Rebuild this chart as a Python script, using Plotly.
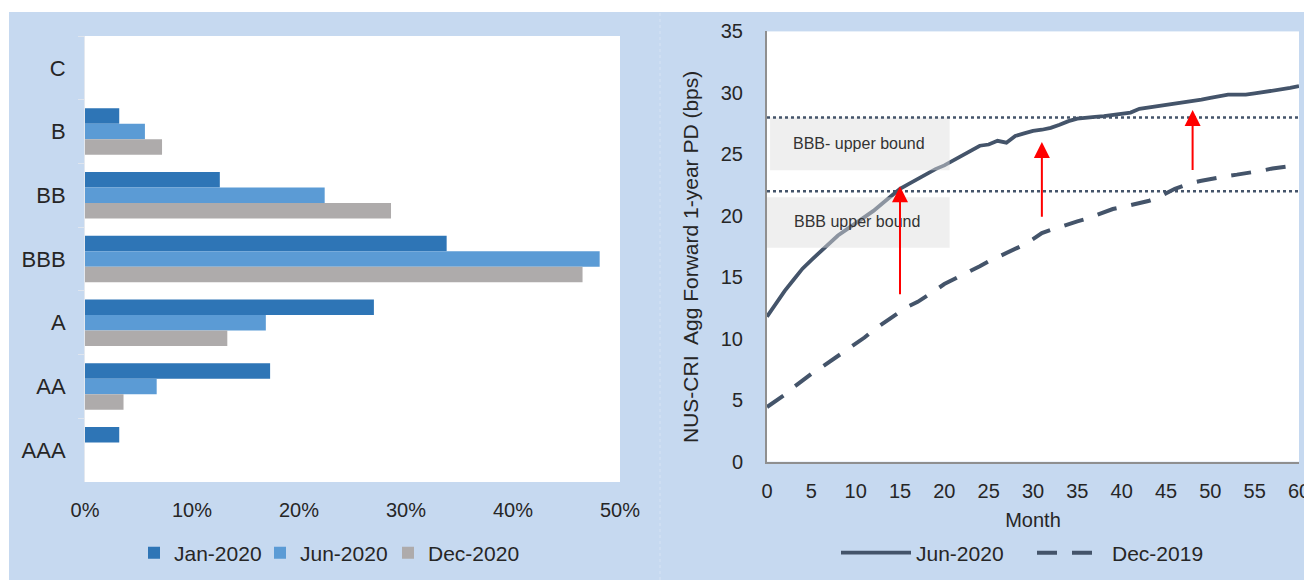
import plotly.graph_objects as go
from plotly.subplots import make_subplots

# ---- rating distribution (share of firms, %) ----
RATINGS = ["C", "B", "BB", "BBB", "A", "AA", "AAA"]
JAN_2020 = [0.0, 3.2, 12.6, 33.8, 27.0, 17.3, 3.2]
JUN_2020 = [0.0, 5.6, 22.4, 48.1, 16.9, 6.7, 0.0]
DEC_2020 = [0.0, 7.2, 28.6, 46.5, 13.3, 3.6, 0.0]
SHARE_TICKS = [0, 10, 20, 30, 40, 50]
SHARE_TICK_LABELS = ["0%", "10%", "20%", "30%", "40%", "50%"]

# ---- forward 1-year PD term structure (bps) ----
MONTHS = list(range(61))
PD_JUN_2020 = [
    11.8, 12.9, 13.9, 14.8, 15.7, 16.4, 17.1, 17.8, 18.4, 18.9,
    19.4, 19.9, 20.4, 21.0, 21.6, 22.2, 22.6, 23.0, 23.4, 23.8,
    24.1, 24.5, 24.9, 25.3, 25.7, 25.8, 26.1, 25.95, 26.5, 26.7,
    26.9, 27.0, 27.15, 27.4, 27.7, 27.9, 28.0, 28.05, 28.1, 28.2,
    28.3, 28.4, 28.7, 28.8, 28.9, 29.0, 29.15, 29.25, 29.35, 29.45,
    29.6, 29.7, 29.85, 29.85, 29.85, 29.95, 30.05, 30.15, 30.25, 30.4,
    30.55,
]
PD_DEC_2019 = [
    4.45, 4.95, 5.45, 6.05, 6.65, 7.15, 7.6, 8.1, 8.6, 9.1,
    9.65, 10.1, 10.7, 11.25, 11.7, 12.2, 12.65, 13.0, 13.45, 13.95,
    14.45, 14.8, 15.15, 15.55, 15.9, 16.3, 16.65, 17.0, 17.3, 17.65,
    18.1, 18.6, 18.85, 19.1, 19.35, 19.55, 19.75, 20.0, 20.3, 20.55,
    20.7, 20.85, 21.0, 21.2, 21.45, 21.8, 22.2, 22.45, 22.7, 22.85,
    23.0, 23.15, 23.25, 23.35, 23.45, 23.55, 23.7, 23.85, 23.95, 24.05,
    24.15,
]
PD_TICKS = [0, 5, 10, 15, 20, 25, 30, 35]
MONTH_TICKS = list(range(0, 61, 5))
PD_TITLE = "NUS-CRI  Agg Forward 1-year PD (bps)"

# rating-band thresholds and their label boxes
BOUND_NAMES = ["BBB- upper bound", "BBB upper bound"]
BOUND_LEVELS = [28.0, 22.0]
BOX_BOTTOMS = [23.7, 17.4]
BOX_TOPS = [28.0, 21.5]
BOX_STARTS = [0.35, 0.0]
BOX_END = 20.6
LABEL_MONTHS = [10.4, 10.1]
LABEL_LEVELS = [25.85, 19.5]

# shift arrows: month, from level, to level
ARROW_MONTHS = [15.0, 31.0, 48.0]
ARROW_FROM = [13.5, 19.8, 23.6]
ARROW_TO = [22.4, 26.0, 28.6]

W, H = 1304, 580
PANEL_BG = "#c6d9f0"
TEXT = "#262626"
FONT = "Liberation Sans, Arial, sans-serif"
LINE_COL = "#44546a"
LEGEND_ROW = 553


def px_x(p):
    return p / W


def px_y(p):
    return 1 - p / H


def legend_box(left_px, item_w):
    # one single-entry legend placed at a fixed pixel column
    return dict(
        orientation="h", x=px_x(left_px), xanchor="left",
        y=px_y(LEGEND_ROW), yanchor="middle",
        bgcolor="rgba(0,0,0,0)", font=dict(size=21, color=TEXT),
        itemwidth=item_w, itemclick=False, itemdoubleclick=False,
    )


fig = make_subplots(rows=1, cols=2)

bar_series = [
    ("Jan-2020", JAN_2020, "#2e75b6", "legend", 134),
    ("Jun-2020", JUN_2020, "#5b9bd5", "legend2", 260),
    ("Dec-2020", DEC_2020, "#aeabab", "legend3", 388),
]
for name, vals, col, leg, _ in bar_series:
    fig.add_trace(
        go.Bar(
            y=RATINGS, x=vals, name=name, orientation="h",
            marker=dict(color=col, line=dict(width=0)),
            legend=leg,
        ),
        row=1, col=1,
    )

line_series = [
    ("Jun-2020", PD_JUN_2020, 3.8, "solid", "legend4", 836),
    ("Dec-2019", PD_DEC_2019, 4.0, "20px,15px", "legend5", 1032),
]
for name, vals, lw, dash, leg, _ in line_series:
    fig.add_trace(
        go.Scatter(
            x=MONTHS, y=vals, name=name, mode="lines",
            line=dict(color=LINE_COL, width=lw, dash=dash),
            legend=leg,
        ),
        row=1, col=2,
    )

legends = {leg: legend_box(x, 30) for *_, leg, x in bar_series}
legends.update({leg: legend_box(x, 70) for *_, leg, x in line_series})

fig.update_layout(
    width=W, height=H,
    margin=dict(l=0, r=0, t=0, b=0, pad=0, autoexpand=False),
    paper_bgcolor=PANEL_BG,
    plot_bgcolor="white",
    font=dict(family=FONT, color=TEXT, size=20),
    barmode="group", bargap=0.27, bargroupgap=0,
    showlegend=True,
    **legends,
)

# left panel axes
fig.update_xaxes(
    domain=[px_x(85), px_x(620)], range=[0, 50],
    tickvals=SHARE_TICKS, ticktext=SHARE_TICK_LABELS,
    showgrid=False, zeroline=False, showline=False, automargin=False,
    ticks="", ticklabelstandoff=14, tickfont=dict(size=20, color=TEXT),
    row=1, col=1,
)
fig.update_yaxes(
    domain=[px_y(482), px_y(36)], categoryorder="array", categoryarray=RATINGS,
    autorange="reversed", showgrid=False, zeroline=False, automargin=False,
    showline=True, linecolor="#e3e8ef", linewidth=1,
    ticks="outside", tickson="boundaries", ticklen=6, tickcolor="#dfe5ee",
    ticklabelstandoff=14, tickfont=dict(size=22, color=TEXT),
    row=1, col=1,
)

# right panel axes
fig.update_xaxes(
    domain=[px_x(767), px_x(1299)], range=[0, 60], tickvals=MONTH_TICKS,
    showgrid=False, zeroline=False, showline=True, linecolor="#8f8f8f",
    linewidth=2, ticks="", ticklabelstandoff=10, automargin=False,
    ticklabeloverflow="allow",
    tickfont=dict(size=20, color=TEXT),
    title=dict(text="Month", font=dict(size=20, color=TEXT), standoff=12),
    row=1, col=2,
)
fig.update_yaxes(
    domain=[px_y(461.7), px_y(31.4)], range=[0, 35], tickvals=PD_TICKS,
    showgrid=False, zeroline=False, showline=True, linecolor="#8f8f8f",
    linewidth=2, ticks="", ticklabelstandoff=18, automargin=False,
    tickfont=dict(size=20, color=TEXT),
    row=1, col=2,
)

shapes = [
    # white page edges around the two blue panels
    dict(type="rect", xref="paper", yref="paper", layer="below",
         x0=0, x1=1, y0=px_y(12), y1=1,
         fillcolor="white", line=dict(width=0)),
    dict(type="rect", xref="paper", yref="paper", layer="below",
         x0=0, x1=px_x(9), y0=0, y1=1,
         fillcolor="white", line=dict(width=0)),
    dict(type="line", xref="paper", yref="paper", layer="below",
         x0=px_x(660), x1=px_x(660), y0=0, y1=px_y(12),
         line=dict(color="#d6e3f4", width=1, dash="dot")),
]
# label boxes (translucent, over the curves)
for lo, hi, x0 in zip(BOX_BOTTOMS, BOX_TOPS, BOX_STARTS):
    shapes.append(dict(
        type="rect", xref="x2", yref="y2", layer="above",
        x0=x0, x1=BOX_END, y0=lo, y1=hi,
        fillcolor="rgba(221,221,221,0.47)", line=dict(width=0),
    ))
# threshold dotted lines
for lvl in BOUND_LEVELS:
    shapes.append(dict(
        type="line", xref="x2 domain", yref="y2", layer="above",
        x0=0, x1=1, y0=lvl, y1=lvl,
        line=dict(color=LINE_COL, width=2.5, dash="dot"),
    ))
fig.update_layout(shapes=shapes)

annotations = [
    # y-axis title of the PD panel
    dict(xref="paper", yref="paper", x=px_x(691), y=px_y(257),
         text=PD_TITLE, textangle=-90, showarrow=False,
         xanchor="center", yanchor="middle",
         font=dict(size=21, color=TEXT, family=FONT)),
]
for name, mx, lvl in zip(BOUND_NAMES, LABEL_MONTHS, LABEL_LEVELS):
    annotations.append(dict(
        xref="x2", yref="y2", x=mx, y=lvl,
        text=name, showarrow=False, xanchor="center", yanchor="middle",
        font=dict(size=16, color="#333333", family=FONT),
    ))
for m, y0, y1 in zip(ARROW_MONTHS, ARROW_FROM, ARROW_TO):
    annotations.append(dict(
        xref="x2", yref="y2", axref="x2", ayref="y2",
        x=m, y=y1, ax=m, ay=y0, text="", showarrow=True,
        arrowhead=2, arrowsize=1.6, arrowwidth=2, arrowcolor="#ff0000",
        standoff=0, startstandoff=0,
    ))
fig.update_layout(annotations=annotations)

fig.write_html(
    "out.html",
    post_script="document.body.style.margin='0px';"
                "document.body.style.overflow='hidden';",
)
